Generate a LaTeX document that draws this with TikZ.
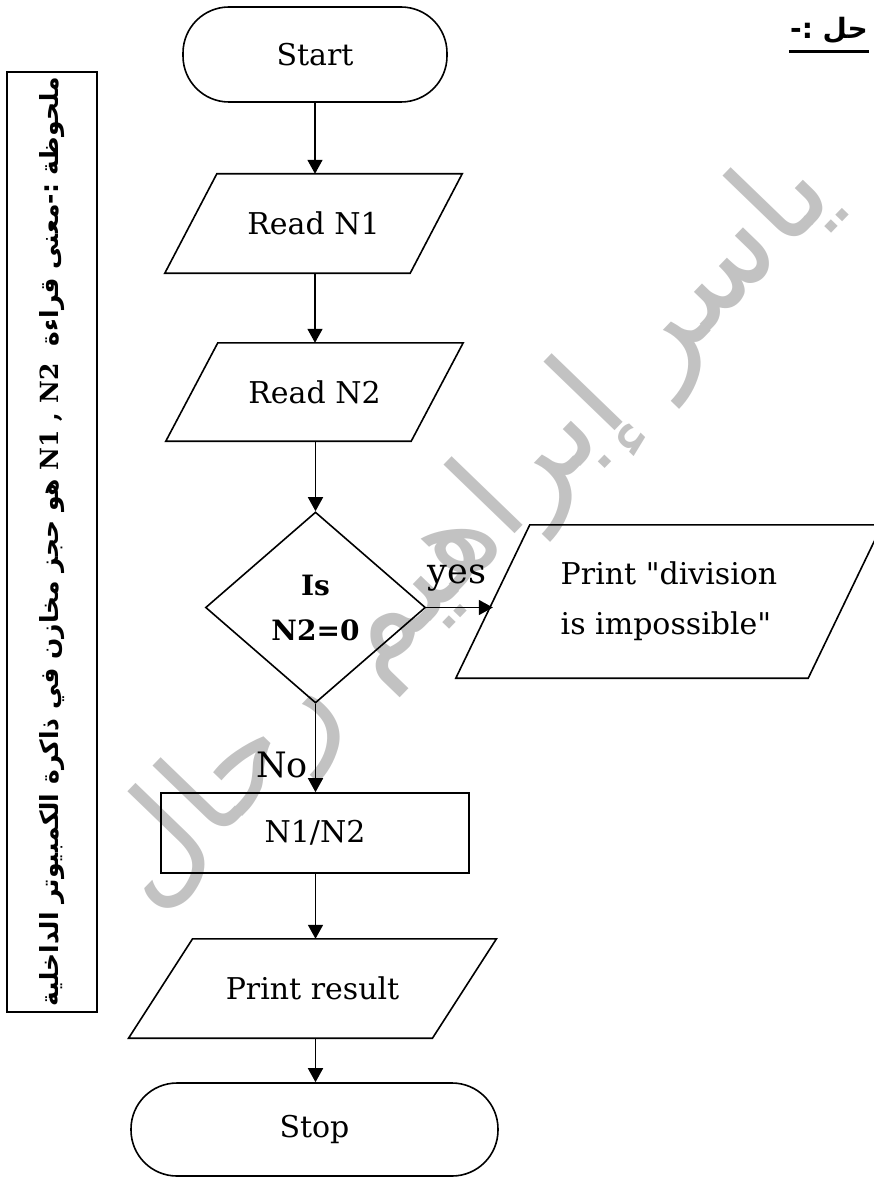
\documentclass[tikz,border=0pt]{standalone}
\usepackage{fontspec}
\setmainfont{DejaVu Serif}
\newfontfamily\arabicfont[Script=Arabic]{DejaVu Sans}
\TeXXeTstate=1
\usetikzlibrary{shapes.geometric,arrows.meta}

% slanted input/output box drawn around a plain node; #2 = half of the slant
\newcommand\iooutline[2]{%
  \draw[shp] ([xshift=#2]#1.north west) -- ([xshift=#2]#1.north east)
    -- ([xshift=-#2]#1.south east) -- ([xshift=-#2]#1.south west) -- cycle;}

\tikzset{
  shp/.style={draw, line width=1.6pt, line join=miter},
  arr/.style={line width=1.6pt, -{Triangle[length=14pt,width=15pt]}},
  txt/.style={font=\fontsize{30}{36}\selectfont, inner sep=0pt},
  term/.style={shp, txt, rounded corners=46pt},
  iobox/.style={txt},
  procbox/.style={shp, txt},
  decision/.style={shp, diamond, inner sep=0pt, align=center,
    font=\bfseries\fontsize{28}{45}\selectfont},
  lbl/.style={font=\fontsize{35}{40}\selectfont, inner sep=0pt},
}

\begin{document}
\begin{tikzpicture}[x=1pt, y=-1pt]
\useasboundingbox (0,0) rectangle (873,1177);

% faint signature behind the chart
\node[rotate=46, text=black!24, inner sep=0pt,
      font=\arabicfont\fontsize{130}{130}\selectfont] (sig) at (470,532)
      {\beginR ياسر إبراهيم رحال\endR};

% heading
\node[inner sep=0pt, font=\arabicfont\bfseries\fontsize{28}{32}\selectfont]
  (title) at (829,30) {\beginR حل :-\endR};
\draw[line width=3pt] ([xshift=-1pt,yshift=-13pt]title.base west)
  -- ([xshift=1pt,yshift=-13pt]title.base east);

% side note
\node[shp, rotate=90, minimum width=940pt, minimum height=90pt, inner sep=0pt,
      font=\arabicfont\bfseries\fontsize{25}{30}\selectfont] (note) at (52,542)
  {\beginR ملحوظة :-معنى قراءة \ \beginL{\rmfamily\bfseries N1 , N2}\endL{}\ هو حجز مخازن في ذاكرة الكمبيوتر الداخلية\endR};

% flowchart
\node[term, minimum width=264pt, minimum height=95pt] (start) at (315,54.5) {Start};

\node[iobox, minimum width=245pt, minimum height=99pt] (rn1) at (313.5,223.5) {Read N1};
\iooutline{rn1}{26pt}

\node[iobox, minimum width=245pt, minimum height=98pt] (rn2) at (314.5,392) {Read N2};
\iooutline{rn2}{26pt}

\node[decision, minimum width=220pt, minimum height=191pt] (dec) at (315.5,607.5) {Is\\N2=0};

\node[iobox, align=left, font=\fontsize{30}{50}\selectfont,
      minimum width=352pt, minimum height=153pt] (pdiv) at (669,601.5)
  {Print \textquotedbl division\\is impossible\textquotedbl};
\iooutline{pdiv}{37pt}

\node[procbox, minimum width=308pt, minimum height=80pt] (calc) at (315,833) {N1/N2};

\node[iobox, minimum width=303.5pt, minimum height=99pt] (pres) at (312.5,988.5) {Print result};
\iooutline{pres}{32pt}

\node[term, minimum width=367pt, minimum height=93pt] (stop) at (314.5,1129.5) {Stop};

% connectors
\draw[arr] (start.south) -- (start.south |- rn1.north);
\draw[arr] (start.south |- rn1.south) -- (start.south |- rn2.north);
\draw[arr] (dec.north |- rn2.south) -- (dec.north);
\draw[arr] (dec.east) -- (dec.east -| pdiv.west);
\draw[arr] (dec.south) -- (dec.south |- calc.north);
\draw[arr] (dec.south |- calc.south) -- (dec.south |- pres.north);
\draw[arr] (dec.south |- pres.south) -- (dec.south |- stop.north);

\node[lbl] (yes) at (457,578) {yes};
\node[lbl] (no) at (282,765) {No};
\end{tikzpicture}
\end{document}
